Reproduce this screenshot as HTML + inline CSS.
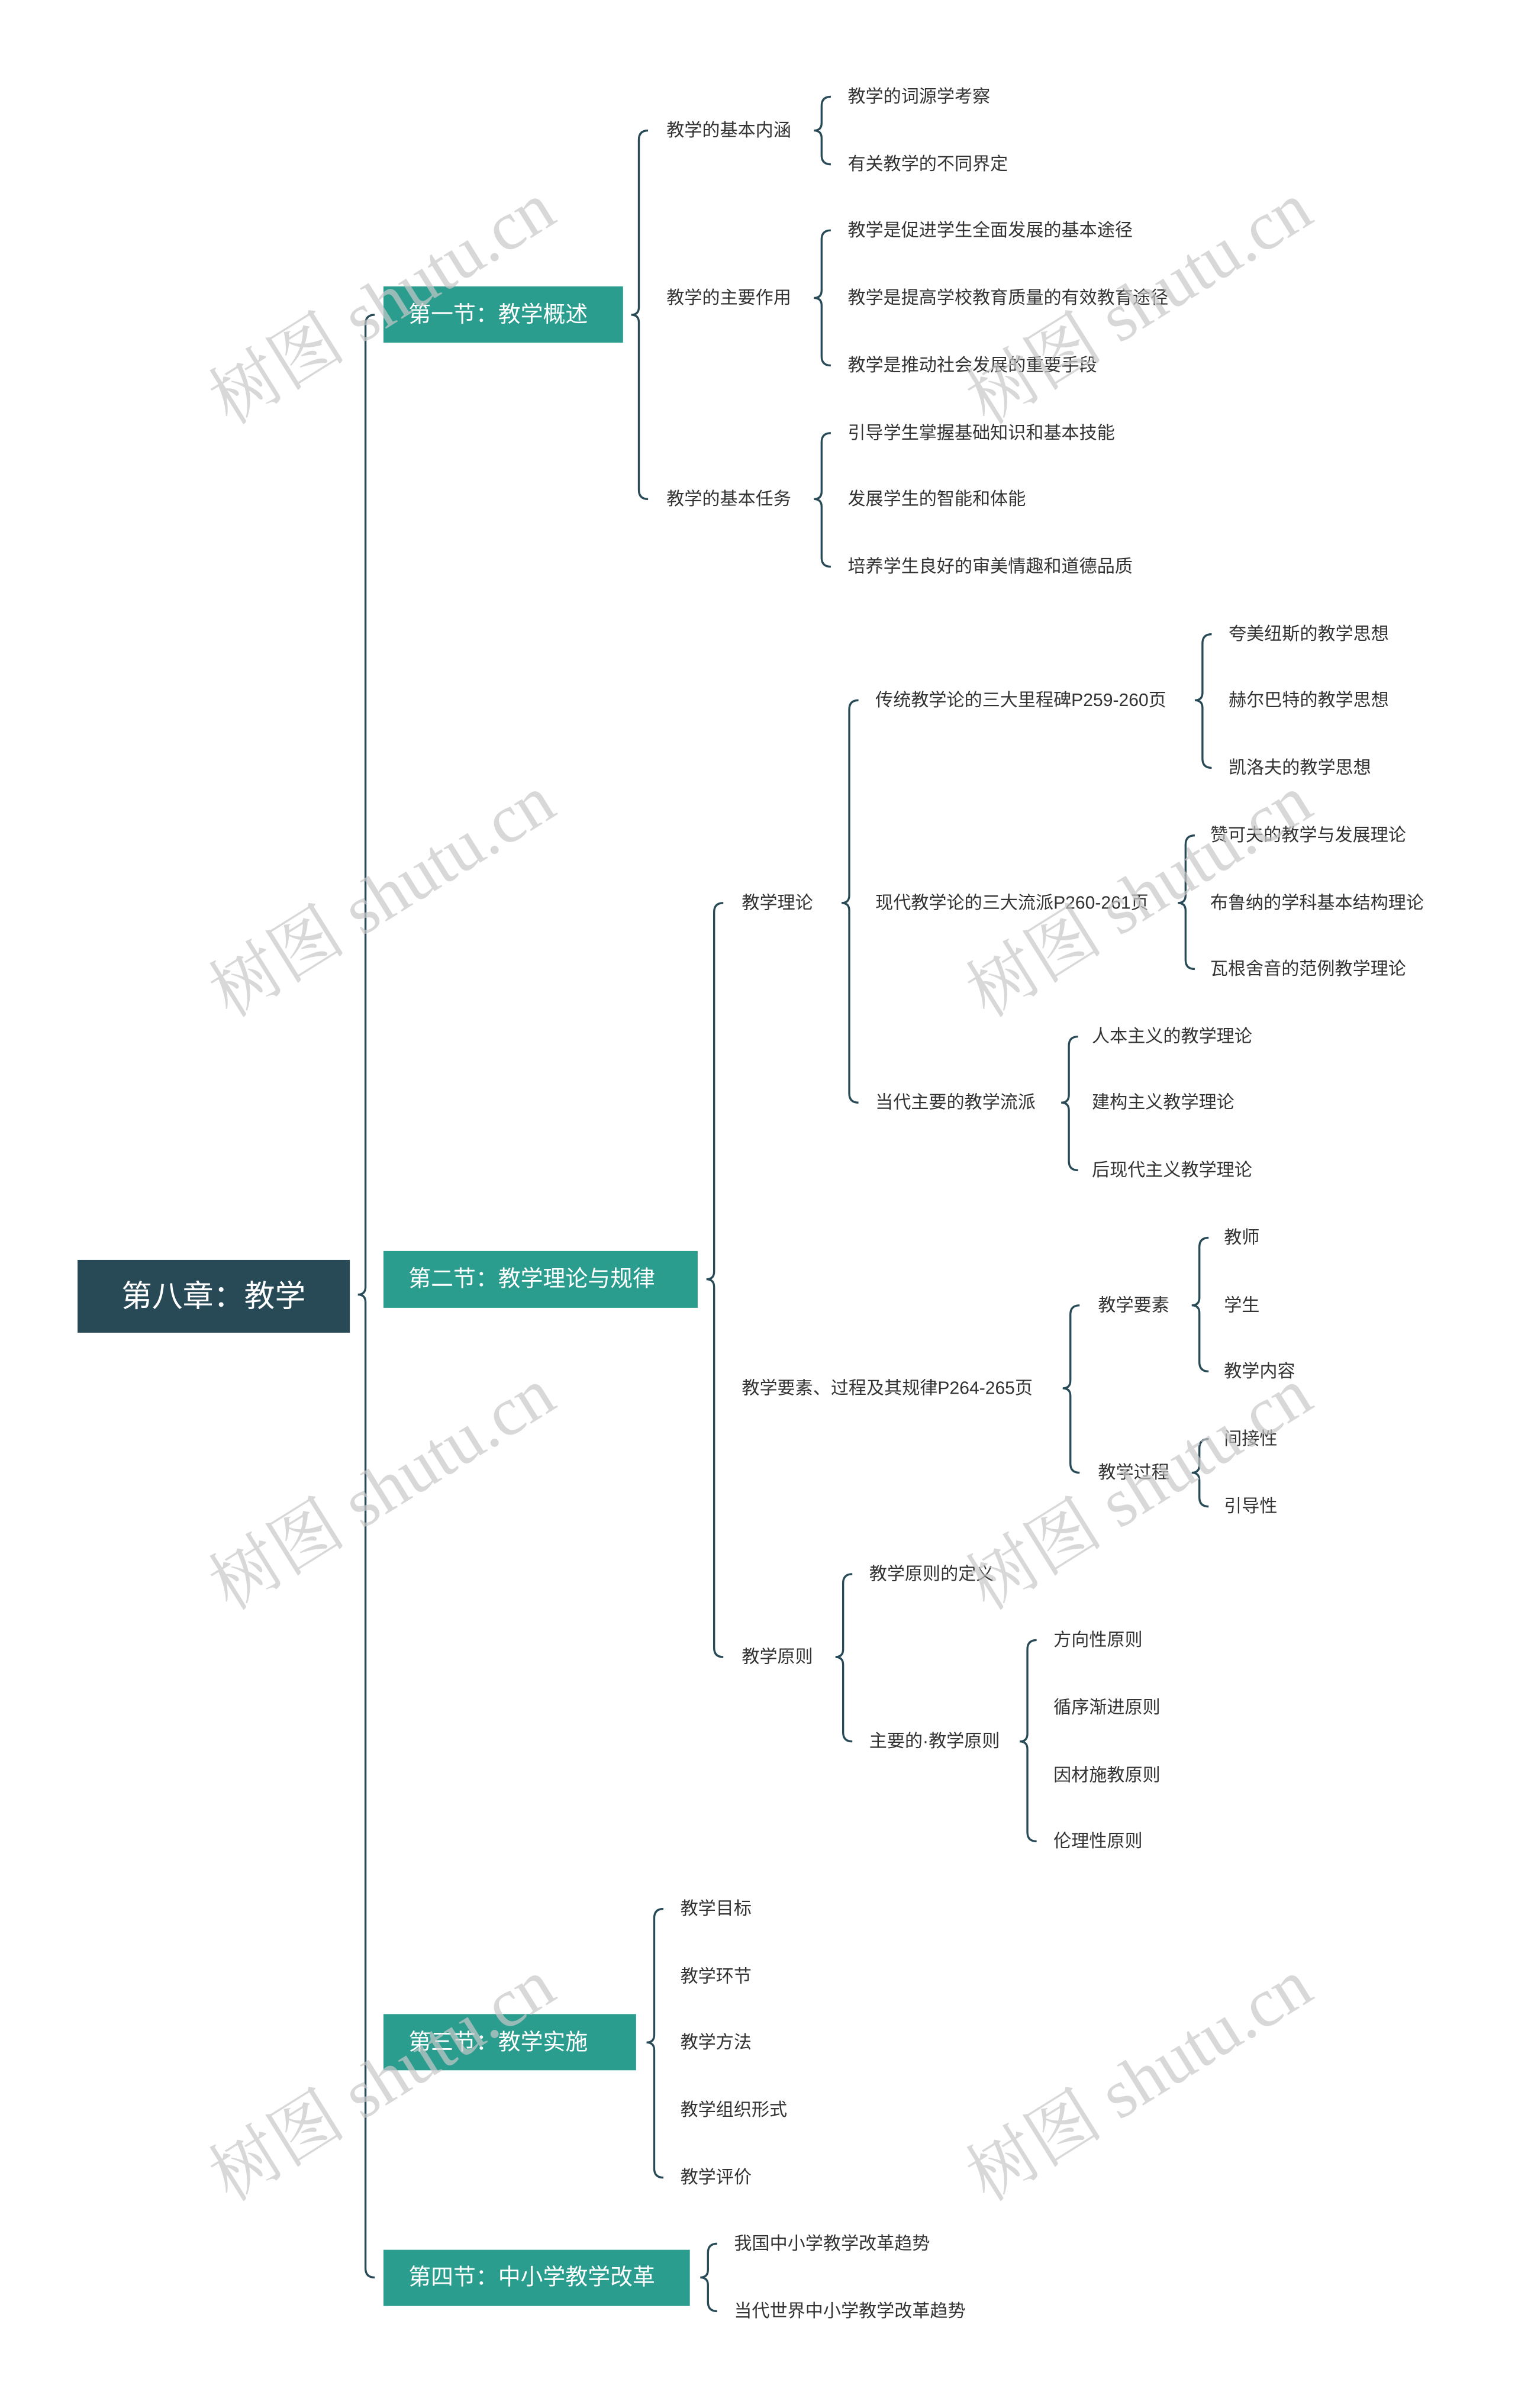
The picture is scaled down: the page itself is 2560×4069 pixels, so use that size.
<!DOCTYPE html>
<html><head><meta charset="utf-8"><style>
html,body{margin:0;padding:0;background:#fff;}
svg{display:block;}
text{font-family:"Liberation Sans","Noto Sans CJK SC",sans-serif;}
.l{font-size:11.6px;fill:#333;dominant-baseline:central;}
.s{font-size:14.6px;fill:#fff;dominant-baseline:central;}
.w{font-family:"Liberation Serif","Noto Serif CJK SC",serif;font-size:45px;fill:#c8c8c8;opacity:0.7;text-anchor:middle;dominant-baseline:central;}
path{fill:none;stroke:#284a57;stroke-width:1.3;}
</style></head><body>
<svg width="2560" height="4069" viewBox="0 0 2560 4069" xmlns="http://www.w3.org/2000/svg">
<g transform="scale(2.595)">
<path d="M244 205 Q238 205 238 211 L238 838 Q238 843 233 843 Q238 843 238 848 L238 1477 Q238 1483 244 1483"/>
<path d="M422 85 Q416 85 416 91 L416 200 Q416 205 411 205 Q416 205 416 210 L416 319 Q416 325 422 325"/>
<path d="M541 63 Q535 63 535 69 L535 80 Q535 85 530 85 Q535 85 535 90 L535 101 Q535 107 541 107"/>
<path d="M541 150 Q535 150 535 156 L535 189 Q535 194 530 194 Q535 194 535 199 L535 232 Q535 238 541 238"/>
<path d="M541 282 Q535 282 535 288 L535 320 Q535 325 530 325 Q535 325 535 330 L535 363 Q535 369 541 369"/>
<path d="M471 588 Q465 588 465 594 L465 828 Q465 833 460 833 Q465 833 465 838 L465 1073 Q465 1079 471 1079"/>
<path d="M559 456 Q553 456 553 462 L553 583 Q553 588 548 588 Q553 588 553 593 L553 712 Q553 718 559 718"/>
<path d="M789 413 Q783 413 783 419 L783 451 Q783 456 778 456 Q783 456 783 461 L783 494 Q783 500 789 500"/>
<path d="M778 544 Q772 544 772 550 L772 583 Q772 588 767 588 Q772 588 772 593 L772 625 Q772 631 778 631"/>
<path d="M702 675 Q696 675 696 681 L696 713 Q696 718 691 718 Q696 718 696 723 L696 756 Q696 762 702 762"/>
<path d="M703 850 Q697 850 697 856 L697 899 Q697 904 692 904 Q697 904 697 909 L697 953 Q697 959 703 959"/>
<path d="M787 806 Q781 806 781 812 L781 845 Q781 850 776 850 Q781 850 781 855 L781 887 Q781 893 787 893"/>
<path d="M787 937 Q781 937 781 943 L781 954 Q781 959 776 959 Q781 959 781 964 L781 975 Q781 981 787 981"/>
<path d="M555 1025 Q549 1025 549 1031 L549 1074 Q549 1079 544 1079 Q549 1079 549 1084 L549 1128 Q549 1134 555 1134"/>
<path d="M675 1068 Q669 1068 669 1074 L669 1129 Q669 1134 664 1134 Q669 1134 669 1139 L669 1193 Q669 1199 675 1199"/>
<path d="M432 1243 Q426 1243 426 1249 L426 1325 Q426 1330 421 1330 Q426 1330 426 1335 L426 1412 Q426 1418 432 1418"/>
<path d="M467 1461 Q461 1461 461 1467 L461 1478 Q461 1483 456 1483 Q461 1483 461 1488 L461 1499 Q461 1505 467 1505"/>
<rect x="50.5" y="820.4" width="177.3" height="47.4" fill="#284a57"/>
<text x="139" y="844" style="font-size:20px;fill:#fff;dominant-baseline:central;text-anchor:middle;">第八章：教学</text>
<rect x="249.7" y="186.5" width="156" height="36.6" fill="#2a9d8f"/>
<text class="s" x="266" y="205">第一节：教学概述</text>
<rect x="249.7" y="814.6" width="204.6" height="37" fill="#2a9d8f"/>
<text class="s" x="266" y="833">第二节：教学理论与规律</text>
<rect x="249.7" y="1311.5" width="164.5" height="36.6" fill="#2a9d8f"/>
<text class="s" x="266" y="1330">第三节：教学实施</text>
<rect x="249.7" y="1465" width="199.5" height="36.6" fill="#2a9d8f"/>
<text class="s" x="266" y="1483">第四节：中小学教学改革</text>
<text class="l" x="434" y="85">教学的基本内涵</text>
<text class="l" x="434" y="194">教学的主要作用</text>
<text class="l" x="434" y="325">教学的基本任务</text>
<text class="l" x="552" y="63">教学的词源学考察</text>
<text class="l" x="552" y="107">有关教学的不同界定</text>
<text class="l" x="552" y="150">教学是促进学生全面发展的基本途径</text>
<text class="l" x="552" y="194">教学是提高学校教育质量的有效教育途径</text>
<text class="l" x="552" y="238">教学是推动社会发展的重要手段</text>
<text class="l" x="552" y="282">引导学生掌握基础知识和基本技能</text>
<text class="l" x="552" y="325">发展学生的智能和体能</text>
<text class="l" x="552" y="369">培养学生良好的审美情趣和道德品质</text>
<text class="l" x="483" y="588">教学理论</text>
<text class="l" x="483" y="904">教学要素、过程及其规律P264-265页</text>
<text class="l" x="483" y="1079">教学原则</text>
<text class="l" x="570" y="456">传统教学论的三大里程碑P259-260页</text>
<text class="l" x="570" y="588">现代教学论的三大流派P260-261页</text>
<text class="l" x="570" y="718">当代主要的教学流派</text>
<text class="l" x="800" y="413">夸美纽斯的教学思想</text>
<text class="l" x="800" y="456">赫尔巴特的教学思想</text>
<text class="l" x="800" y="500">凯洛夫的教学思想</text>
<text class="l" x="788" y="544">赞可夫的教学与发展理论</text>
<text class="l" x="788" y="588">布鲁纳的学科基本结构理论</text>
<text class="l" x="788" y="631">瓦根舍音的范例教学理论</text>
<text class="l" x="711" y="675">人本主义的教学理论</text>
<text class="l" x="711" y="718">建构主义教学理论</text>
<text class="l" x="711" y="762">后现代主义教学理论</text>
<text class="l" x="715" y="850">教学要素</text>
<text class="l" x="715" y="959">教学过程</text>
<text class="l" x="797" y="806">教师</text>
<text class="l" x="797" y="850">学生</text>
<text class="l" x="797" y="893">教学内容</text>
<text class="l" x="797" y="937">间接性</text>
<text class="l" x="797" y="981">引导性</text>
<text class="l" x="566" y="1025">教学原则的定义</text>
<text class="l" x="566" y="1134">主要的·教学原则</text>
<text class="l" x="686" y="1068">方向性原则</text>
<text class="l" x="686" y="1112">循序渐进原则</text>
<text class="l" x="686" y="1156">因材施教原则</text>
<text class="l" x="686" y="1199">伦理性原则</text>
<text class="l" x="443" y="1243">教学目标</text>
<text class="l" x="443" y="1287">教学环节</text>
<text class="l" x="443" y="1330">教学方法</text>
<text class="l" x="443" y="1374">教学组织形式</text>
<text class="l" x="443" y="1418">教学评价</text>
<text class="l" x="478" y="1461">我国中小学教学改革趋势</text>
<text class="l" x="478" y="1505">当代世界中小学教学改革趋势</text>
<text class="w" transform="translate(249,198) rotate(-32)">树图 shutu.cn</text>
<text class="w" transform="translate(742,198) rotate(-32)">树图 shutu.cn</text>
<text class="w" transform="translate(249,584) rotate(-32)">树图 shutu.cn</text>
<text class="w" transform="translate(742,584) rotate(-32)">树图 shutu.cn</text>
<text class="w" transform="translate(249,970) rotate(-32)">树图 shutu.cn</text>
<text class="w" transform="translate(742,970) rotate(-32)">树图 shutu.cn</text>
<text class="w" transform="translate(249,1355) rotate(-32)">树图 shutu.cn</text>
<text class="w" transform="translate(742,1355) rotate(-32)">树图 shutu.cn</text>
</g>
</svg>
</body></html>
